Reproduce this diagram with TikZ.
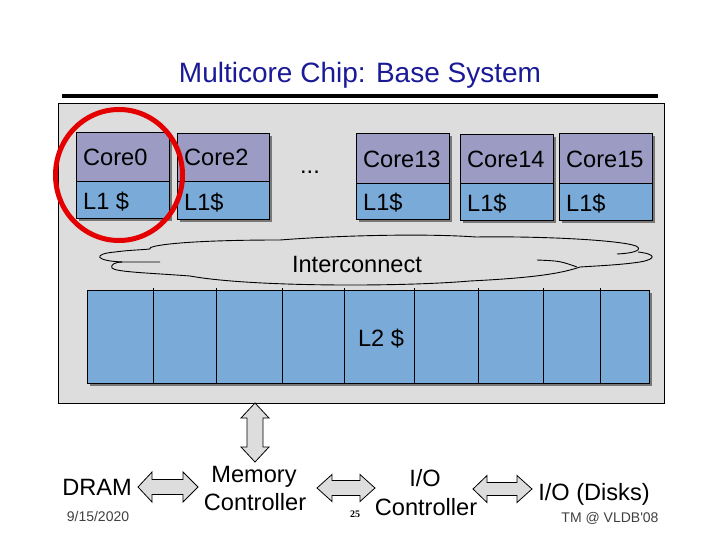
\documentclass[tikz,border=0pt]{standalone}
\usepackage{fontspec}
\setmainfont{Liberation Sans}
\newfontfamily\serifbf{Liberation Serif}
\definecolor{titleblue}{RGB}{26,26,150}
\definecolor{chipgray}{RGB}{221,221,221}
\definecolor{corefill}{RGB}{155,155,196}
\definecolor{lonefill}{RGB}{122,170,216}
\definecolor{shadowc}{RGB}{120,120,120}
\definecolor{ringred}{RGB}{228,0,0}
\tikzset{
  boxbase/.style={draw=black, line width=0.9pt, inner sep=0pt, outer sep=0pt, anchor=north west},
  corebox/.style={boxbase, fill=corefill},
  lonebox/.style={boxbase, fill=lonefill},
  txt/.style={inner sep=0pt, font=\fontsize{23.6}{25}\selectfont},
  small/.style={inner sep=0pt, font=\fontsize{14}{16}\selectfont, text=black!75},
  arrowbox/.style={draw=black, line width=0.8pt, fill=chipgray, line join=miter},
  cloudline/.style={draw=black, line width=0.9pt}
}
\newcommand\corecol[8]{%
  \fill[shadowc] (#2+3,#4+3) rectangle (#3+3,#6+3);
  \node[corebox, minimum width={#3-#2}, minimum height={#5-#4}] (#1c) at (#2,#4) {};
  \node[lonebox, minimum width={#3-#2}, minimum height={#6-#5}] (#1l) at (#2,#5) {};
  \node[txt, anchor=base west] (#1ct) at (#2+7,#5-15.5) {#7};
  \node[txt, anchor=base west] (#1lt) at (#2+7,#6-8.5) {#8};
}
\newcommand\hdarrow[7]{% tipL, baseL, baseR, tipR, yc, half head, half shaft
  \draw[arrowbox] (#1,#5) -- (#2,#5-#6) -- (#2,#5-#7) -- (#3,#5-#7) -- (#3,#5-#6) -- (#4,#5)
    -- (#3,#5+#6) -- (#3,#5+#7) -- (#2,#5+#7) -- (#2,#5+#6) -- cycle;
}
\begin{document}
\begin{tikzpicture}[x=1pt,y=-1pt]
\useasboundingbox (0,0) rectangle (720,540);
% title
\node[inner sep=0pt, anchor=base, text=titleblue, font=\fontsize{28}{30}\selectfont] (title) at (360,83) {Multicore Chip: Base System};
\fill[black] (62,94) rectangle (658,98);
% chip
\node[boxbase, fill=chipgray, line width=0.8pt, minimum width=606, minimum height=300] (chip) at (58,103) {};
% cores
\corecol{k0}{76}{169}{132}{181}{218}{Core0}{L1 \$}
\corecol{k2}{177}{269}{133}{181}{219}{Core2}{L1\$}
\corecol{k13}{356}{449}{133}{183}{219}{Core13}{L1\$}
\corecol{k14}{460}{553}{134}{183}{220}{Core14}{L1\$}
\corecol{k15}{559}{652}{133}{183}{220}{Core15}{L1\$}
\node[txt, anchor=base] (dots) at (310,174) {...};
% red ring
\draw[ringred, line width=5pt] (119,175) ellipse [x radius=63.5, y radius=65.5];
\coordinate (ring) at (119,175);
% interconnect cloud
\draw[cloudline] (160,262) -- (123,262) .. controls (95,261) and (92,254) .. (115,252)
  .. controls (130,250) and (140,250) .. (150,249) .. controls (146,246) and (180,240) .. (280,240)
  .. controls (330,236) and (420,233) .. (476,237) .. controls (540,236) and (620,240) .. (636,246)
  .. controls (642,249) and (638,253) .. (617,254);
\draw[cloudline] (638,252) .. controls (656,254) and (657,259) .. (640,262)
  .. controls (620,265) and (595,266) .. (580,267) .. controls (560,274) and (530,278) .. (470,281)
  .. controls (400,287) and (250,287) .. (190,276) .. controls (150,273) and (115,272) .. (112,268)
  .. controls (110,265) and (115,262) .. (122,262);
\draw[cloudline] (537,260) .. controls (560,261) .. (577,267);
\node[txt, anchor=base] (icn) at (357,272) {Interconnect};
% L2
\fill[shadowc] (90,293) rectangle (652,386);
\node[lonebox, minimum width=562, minimum height=93] (ltwo) at (87,290) {};
\foreach \x in {153,216,282,344,414,478,543,600}
  \draw[black, line width=0.9pt] (\x,288) -- (\x,384);
\node[txt, anchor=base] (ltwot) at (381,346) {L2 \$};
% vertical arrow
\draw[arrowbox] (255,403) -- (269,418) -- (263,418) -- (263,447) -- (269,447) -- (255,462)
  -- (241,447) -- (247,447) -- (247,418) -- (241,418) -- cycle;
% horizontal arrows
\hdarrow{138}{152}{183}{198}{487}{15}{7.5}
\hdarrow{317}{332}{360}{375}{488}{13.5}{7.5}
\hdarrow{473}{487}{517}{532}{489}{13.5}{6.5}
% bottom labels
\node[txt, anchor=base] (dram) at (97,495) {DRAM};
\node[txt, anchor=base] (mc1) at (254,482) {Memory};
\node[txt, anchor=base] (mc2) at (255,510) {Controller};
\node[txt, anchor=base] (io1) at (425,486) {I/O};
\node[txt, anchor=base] (io2) at (426,515) {Controller};
\node[txt, anchor=base] (disks) at (594,500) {I/O (Disks)};
\node[small, anchor=base] (date) at (98,521) {9/15/2020};
\node[small, anchor=base] (tm) at (610,522) {TM @ VLDB\textquotesingle 08};
\node[inner sep=0pt, anchor=base, font=\serifbf\bfseries\fontsize{10}{12}\selectfont] (pg) at (355,517) {25};
\end{tikzpicture}
\end{document}
